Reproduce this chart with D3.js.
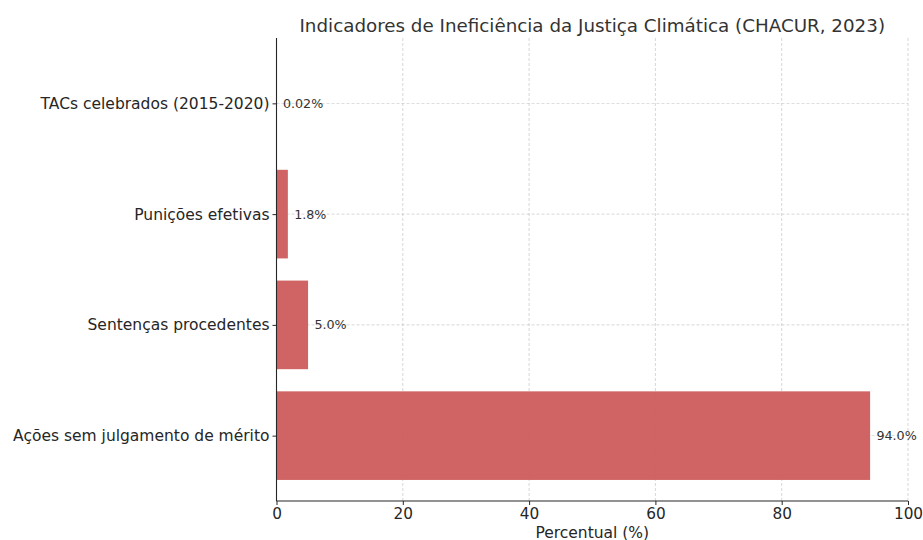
<!DOCTYPE html>
<html lang="pt">
<head>
<meta charset="utf-8">
<title>Indicadores de Ineficiência da Justiça Climática</title>
<script src="https://d3js.org/d3.v7.min.js"></script>
<style>
  body { margin: 0; background: #fff; }
  svg text { font-family: "DejaVu Sans", sans-serif; }
  .grid line { stroke: #b0b0b0; stroke-dasharray: 3,2; stroke-width: 0.7; opacity: 0.7; }
</style>
</head>
<body>
<div id="chart"></div>
<script>
// data
const categories = ["Ações sem julgamento de mérito", "Sentenças procedentes", "Punições efetivas", "TACs celebrados (2015-2020)"];
const values = [94.0, 5.0, 1.8, 0.02];
const valueLabels = ["94.0%", "5.0%", "1.8%", "0.02%"];
const xTicks = [0, 20, 40, 60, 80, 100];

const W = 923, H = 540;
const margin = { top: 38, right: 15, bottom: 39, left: 276.5 };
const width = 908 - margin.left;
const height = H - margin.top - margin.bottom;

const svg = d3.select("#chart").append("svg")
  .attr("width", W).attr("height", H);
const g = svg.append("g").attr("transform", `translate(${margin.left},${margin.top})`);

const x = d3.scaleLinear().domain([0, 100]).range([0, width]);
// categorical positions like matplotlib: index 0 at bottom
const y = d3.scaleLinear().domain([-0.59, 3.59]).range([height, 0]);
const barH = y(0) - y(0.8);

// grid
const grid = g.append("g").attr("class", "grid");
grid.selectAll("line.v").data(xTicks).join("line")
  .attr("x1", d => x(d)).attr("x2", d => x(d))
  .attr("y1", 0).attr("y2", height);
grid.selectAll("line.h").data(categories).join("line")
  .attr("x1", 0).attr("x2", width)
  .attr("y1", (d, i) => y(i)).attr("y2", (d, i) => y(i));

// bars
g.selectAll("rect.bar").data(values).join("rect")
  .attr("class", "bar")
  .attr("x", x(0))
  .attr("y", (d, i) => y(i) - barH / 2)
  .attr("width", d => x(d) - x(0))
  .attr("height", barH)
  .attr("fill", "#cd5c5c")
  .attr("fill-opacity", 0.95);

// value labels
g.selectAll("text.val").data(values).join("text")
  .attr("class", "val")
  .attr("x", d => x(d + 1))
  .attr("y", (d, i) => y(i))
  .attr("dy", "0.35em")
  .attr("font-size", 12.7)
  .attr("fill", "#333")
  .text((d, i) => valueLabels[i]);

// axes
const xAxis = g.append("g").attr("class", "axis")
  .attr("transform", `translate(0,${height})`)
  .call(d3.axisBottom(x).tickValues(xTicks).tickSize(4).tickPadding(3).tickFormat(d3.format("d")));
xAxis.selectAll("text").attr("font-size", 15.3);

const yAxis = g.append("g").attr("class", "axis")
  .call(d3.axisLeft(y).tickValues([0, 1, 2, 3]).tickSize(4).tickPadding(3).tickFormat(i => categories[i]));
yAxis.selectAll("text").attr("font-size", 15.5);

[xAxis, yAxis].forEach(a => {
  a.attr("font-family", "DejaVu Sans");
  a.selectAll("text").attr("fill", "#262626");
  a.select(".domain").attr("stroke", "#262626").attr("stroke-width", 1.1);
  a.selectAll(".tick line").attr("stroke", "#262626");
});
yAxis.select(".domain").attr("d", `M0,0V${height}`);
xAxis.select(".domain").attr("d", `M0,0H${width}`);

// titles
svg.append("text")
  .attr("x", margin.left + width / 2).attr("y", 32)
  .attr("text-anchor", "middle").attr("font-size", 18.3).attr("fill", "#333")
  .text("Indicadores de Ineficiência da Justiça Climática (CHACUR, 2023)");

svg.append("text")
  .attr("x", margin.left + width / 2).attr("y", 538)
  .attr("text-anchor", "middle").attr("font-size", 15.5).attr("fill", "#262626")
  .text("Percentual (%)");
</script>
</body>
</html>
